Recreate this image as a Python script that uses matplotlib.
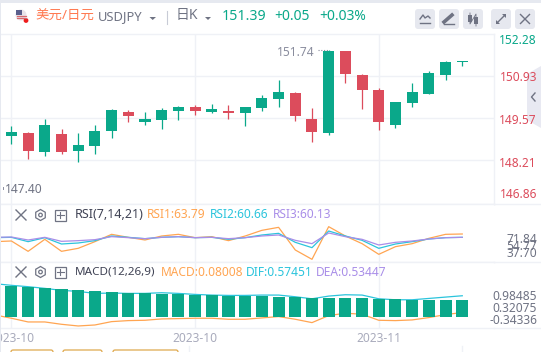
import matplotlib
matplotlib.use('Agg')
import matplotlib.pyplot as plt
from matplotlib.patches import Circle, FancyBboxPatch, Polygon, Rectangle, RegularPolygon

plt.rcParams['font.family'] = ['Noto Sans', 'Noto Sans CJK SC', 'DejaVu Sans']

W, H = 541, 352

# candles
opens = [149.01, 149.09, 148.49, 149.06, 148.52, 148.68, 149.17, 149.77, 149.45, 149.52,
         149.81, 149.93, 149.78, 149.80, 149.72, 149.91, 150.20, 150.38, 149.54, 149.10,
         151.74, 150.96, 150.48, 149.36, 150.07, 150.36, 150.97, 151.39]
closes = [149.12, 148.52, 149.35, 148.49, 148.70, 149.16, 149.83, 149.65, 149.54, 149.83,
          149.93, 149.81, 149.87, 149.74, 149.93, 150.22, 150.41, 149.65, 149.13, 151.74,
          151.00, 150.49, 149.43, 150.09, 150.41, 151.03, 151.38, 151.41]
highs = [149.32, 149.12, 149.54, 149.22, 149.09, 149.35, 149.87, 149.83, 149.77, 149.90,
         149.96, 150.00, 150.03, 150.00, 149.93, 150.32, 150.80, 150.41, 149.90, 151.77,
         151.74, 150.99, 150.54, 150.09, 150.70, 151.09, 151.41, 151.41]
lows = [148.75, 148.26, 148.36, 148.42, 148.17, 148.42, 148.94, 149.46, 149.35, 149.23,
        149.52, 149.67, 149.74, 149.55, 149.33, 149.81, 149.94, 149.49, 148.81, 149.04,
        150.72, 149.88, 149.20, 149.26, 149.94, 150.36, 150.81, 151.26]
price_grid = [150.93, 149.57, 148.21]

# indicators start one day left of the first candle
rsi1 = [62.91, 64.54, 39.33, 68.60, 39.33, 46.65, 62.91, 80.80, 73.48, 66.98, 76.73, 80.80,
        72.67, 75.11, 65.35, 76.73, 90.55, 97.87, 42.59, 19.82, 99.49, 76.73, 58.03, 32.00,
        50.72, 58.03, 71.04, 80.80, 81.61]
rsi2 = [72.67, 73.48, 62.91, 72.67, 57.20, 59.66, 65.35, 76.73, 73.48, 70.23, 73.48, 75.11,
        72.67, 73.48, 68.60, 72.67, 79.17, 83.23, 61.28, 48.28, 88.93, 76.73, 66.16, 46.65,
        57.20, 62.91, 69.41, 72.67, 73.48]
rsi3 = [73.48, 74.29, 66.98, 73.48, 63.72, 65.35, 67.79, 75.11, 72.67, 70.23, 73.48, 75.11,
        72.67, 73.48, 70.23, 72.67, 76.73, 79.17, 66.16, 58.03, 84.05, 75.11, 68.60, 54.78,
        61.28, 64.54, 69.41, 72.67, 73.48]
rsi_ticks = [71.84, 54.77, 37.70]

macd_bars = [1.480, 1.425, 1.371, 1.316, 1.261, 1.207, 1.152, 1.097, 1.097, 1.043,
             1.043, 0.988, 0.988, 0.933, 0.933, 0.933, 0.879, 0.879, 0.824, 0.824,
             0.824, 0.824, 0.769, 0.769, 0.715, 0.715, 0.715, 0.715]
macd_base = -0.214
dif = [1.589, 1.498, 1.425, 1.334, 1.225, 1.170, 1.061, 1.079, 1.061, 1.061, 1.097, 1.061,
       1.006, 0.970, 0.952, 0.952, 0.970, 0.970, 0.879, 0.769, 0.915, 0.988, 0.970, 0.769,
       0.715, 0.715, 0.788, 0.861, 0.933]
macd_line = [-0.105, -0.287, -0.488, -0.488, -0.615, -0.706, -0.652, -0.470, -0.415, -0.397,
             -0.324, -0.306, -0.287, -0.287, -0.342, -0.342, -0.269, -0.196, -0.342, -0.524,
             -0.142, -0.014, -0.069, -0.397, -0.415, -0.378, -0.251, -0.087, 0.022]
macd_ticks = [0.98485, 0.32075, -0.34336]

date_ticks = [0, 11, 22]
date_labels = ['2023-10', '2023-10', '2023-11']

GREEN = '#0aa88a'
RED = '#dc4c5c'
ORANGE = '#ffa552'
CYAN = '#2bc4dc'
PURPLE = '#a98ee8'
GREY = '#6f7383'
LINE = '#eff1f6'


def px_axes(fig, left, top, right, bottom, **kw):
    return fig.add_axes([left / W, 1 - bottom / H, (right - left) / W, (bottom - top) / H], **kw)


fig = plt.figure(figsize=(W / 100, H / 100), dpi=100, facecolor='white')

ax1 = px_axes(fig, 0, 34, 494, 204)
ax2 = px_axes(fig, 0, 204, 494, 261.5)
ax3 = px_axes(fig, 0, 261.5, 494, 328)

x = list(range(len(opens)))
xl = list(range(-1, len(opens)))

for ax in (ax1, ax2, ax3):
    ax.set_xlim(-0.683, 28.9)
    ax.set_xticks(date_ticks)
    ax.grid(True, axis='x', color=LINE, lw=1)
    ax.set_axisbelow(True)
    for s in ax.spines.values():
        s.set_color(LINE)
        s.set_linewidth(1)
    ax.spines['left'].set_visible(False)
    ax.tick_params(length=0, labelbottom=False, labelleft=False)
ax2.spines['right'].set_visible(False)
ax3.spines['right'].set_visible(False)

# price pane
ax1.set_ylim(146.80, 152.285)
ax1.set_yticks(price_grid)
ax1.grid(True, axis='y', color=LINE, lw=1)
for i in x:
    c = GREEN if closes[i] >= opens[i] else RED
    ax1.vlines(i, lows[i], highs[i], color=c, lw=0.9, zorder=2)
    ax1.bar(i, abs(closes[i] - opens[i]), bottom=min(opens[i], closes[i]), width=0.66, color=c, zorder=3)

# RSI pane
ax2.set_ylim(14.5, 154.8)
ax2.plot(xl, rsi1, color=ORANGE, lw=0.9)
ax2.plot(xl, rsi2, color=CYAN, lw=0.9)
ax2.plot(xl, rsi3, color=PURPLE, lw=0.9)
ax2.yaxis.tick_right()
ax2.set_yticks(rsi_ticks)
ax2.set_yticklabels(['%.2f' % v for v in rsi_ticks], ha='right', color=GREY, fontsize=8.6)
ax2.tick_params(axis='y', pad=31, labelright=True)

# MACD pane, bars sit on top of the lines
ax3.set_ylim(-0.816, 2.791)
ax3.plot(xl, dif, color=CYAN, lw=0.9, zorder=2)
ax3.plot(xl, macd_line, color=ORANGE, lw=0.9, zorder=2)
ax3.bar(x, [v - macd_base for v in macd_bars], bottom=macd_base, width=0.72, color=GREEN, zorder=3)
ax3.yaxis.tick_right()
ax3.set_yticks(macd_ticks)
ax3.set_yticklabels(['%.5f' % v for v in macd_ticks], ha='right', color=GREY, fontsize=8.6)
ax3.tick_params(axis='y', pad=31, labelright=True)
ax3.set_xticklabels(date_labels, color='#a9abbc', fontsize=8.6)
ax3.tick_params(axis='x', labelbottom=True, pad=3)

# everything around the chart, in pixels
top = fig.add_axes([0, 0, 1, 1], zorder=10)
top.set_xlim(0, W)
top.set_ylim(H, 0)
top.axis('off')
top.patch.set_alpha(0)


def txt(px, py, s, color, size=8.6, ha='left', **kw):
    top.text(px, py, s, color=color, fontsize=size, ha=ha, va='center', **kw)


def cross(cx, cy, r, color=GREY, lw=1):
    top.plot([cx - r, cx + r], [cy - r, cy + r], color=color, lw=lw)
    top.plot([cx - r, cx + r], [cy + r, cy - r], color=color, lw=lw)


top.add_patch(Rectangle((0, 0), W, 2.5, color='#e6e9f0', lw=0))
top.add_patch(Rectangle((0, 0), 1, H, color='#e6e9f0', lw=0))

# pane separators run on under the right hand labels
for sy in (204, 261.5, 328):
    top.plot([494, 541], [sy, sy], color=LINE, lw=1)

# header
top.add_patch(Circle((21, 15), 5.5, color='#e8e4ea', lw=0))
top.add_patch(Rectangle((15.5, 10), 6, 4.5, color='#5a5f8c', lw=0))
for fy in (15.5, 18):
    top.plot([17, 26], [fy, fy], color='#d66a70', lw=0.9)
top.add_patch(Circle((26, 20.5), 2.4, color='#ee1c1c', lw=0))
txt(35, 16, '美元/日元', '#ff7a52', 9.7)
txt(98, 17, 'USDJPY', GREY, 9.3)
top.add_patch(Polygon([[149.5, 17], [156, 17], [152.7, 20]], color=GREY, lw=0))
top.plot([166.5, 166.5], [11, 24], color='#c8cbd6', lw=0.8)
txt(176, 16, '日K', GREY, 10)
top.add_patch(Polygon([[205, 17], [211, 17], [208, 20]], color=GREY, lw=0))
txt(222, 16, '151.39', GREEN, 10.2, fontweight='bold')
txt(274, 16, '+0.05', GREEN, 10, fontweight='bold')
txt(319, 16, '+0.03%', GREEN, 10, fontweight='bold')

# toolbar
for bx in (415, 439, 463, 491, 515):
    top.add_patch(FancyBboxPatch((bx + 2, 11), 16, 16, boxstyle='round,pad=2,rounding_size=3', color='#e6e8ef', lw=0))
top.plot([420, 423, 425, 428, 430], [19, 15, 18, 16, 18], color=GREY, lw=1)
top.plot([420, 430], [22.5, 22.5], color=GREY, lw=1)
top.plot([444, 452], [22, 15], color=GREY, lw=2.6)
top.plot([444, 454], [24, 24], color=GREY, lw=1)
top.add_patch(Rectangle((468, 15), 3.5, 7, color=GREY, lw=0))
top.add_patch(Rectangle((474, 16.5), 3.5, 7, color=GREY, lw=0))
top.plot([470, 470, 476, 476], [13, 24, 14, 26], color=GREY, lw=0.6)
top.plot([497, 505], [23, 15], color=GREY, lw=1)
top.add_patch(Polygon([[502, 14], [506, 14], [506, 18]], color=GREY, lw=0))
top.add_patch(Polygon([[496, 20], [496, 24], [500, 24]], color=GREY, lw=0))
cross(525, 19, 4.5)

# side handle
top.add_patch(Polygon([[541, 66], [527, 74], [527, 120], [541, 128]], color='#e8e9f2', lw=0))
top.plot([535, 531.5, 535], [93, 97, 101], color=GREY, lw=1)

# price labels
txt(537, 41, '152.28', GREEN, ha='right')
txt(537, 77.3, '150.93', RED, ha='right')
txt(537, 120.5, '149.57', RED, ha='right')
txt(537, 163.3, '148.21', RED, ha='right')
txt(537, 194.5, '146.86', RED, ha='right')
txt(277, 52, '151.74', '#8a8d9e')
top.plot([318, 328], [49.5, 49.5], color='#8a8d9e', lw=0.8, ls=(0, (1, 1.5)))
txt(5, 189.5, '147.40', '#6f7383')
top.plot([3, 3], [187, 189], color='#8a8d9e', lw=0.7)

# indicator headers
for ly, name, fs in ((215, 'RSI(7,14,21)', 9), (272, 'MACD(12,26,9)', 8.4)):
    cross(21, ly, 5)
    top.add_patch(RegularPolygon((40.5, ly), 6, radius=5.5, fill=False, ec=GREY, lw=0.9))
    top.add_patch(Circle((40.5, ly), 1.8, fill=False, ec=GREY, lw=0.9))
    top.add_patch(Rectangle((55, ly - 5), 10.5, 10.5, fill=False, ec=GREY, lw=0.9))
    top.plot([57, 63.5], [ly + 0.2, ly + 0.2], color=GREY, lw=0.8)
    top.plot([60.2, 60.2], [ly - 3, ly + 3.2], color=GREY, lw=0.8)
    txt(75, ly, name, '#3f4254', fs)
txt(147, 215, 'RSI1:63.79', ORANGE)
txt(210, 215, 'RSI2:60.66', CYAN)
txt(273, 215, 'RSI3:60.13', PURPLE)
txt(161, 272, 'MACD:0.08008', ORANGE)
txt(246, 272, 'DIF:0.57451', CYAN)
txt(316, 272, 'DEA:0.53447', PURPLE)

# tops of the buttons below the chart
for bl, br in ((11, 53), (63, 102), (113, 178)):
    top.add_patch(FancyBboxPatch((bl, 350), br - bl, 6, boxstyle='round,pad=0,rounding_size=2', fill=False, ec='#dfa94e', lw=0.9))
top.plot([189, 189], [346, 352], color=LINE, lw=1)
top.plot([462, 462], [346, 352], color=LINE, lw=1)

fig.savefig('out.png', dpi=100)
